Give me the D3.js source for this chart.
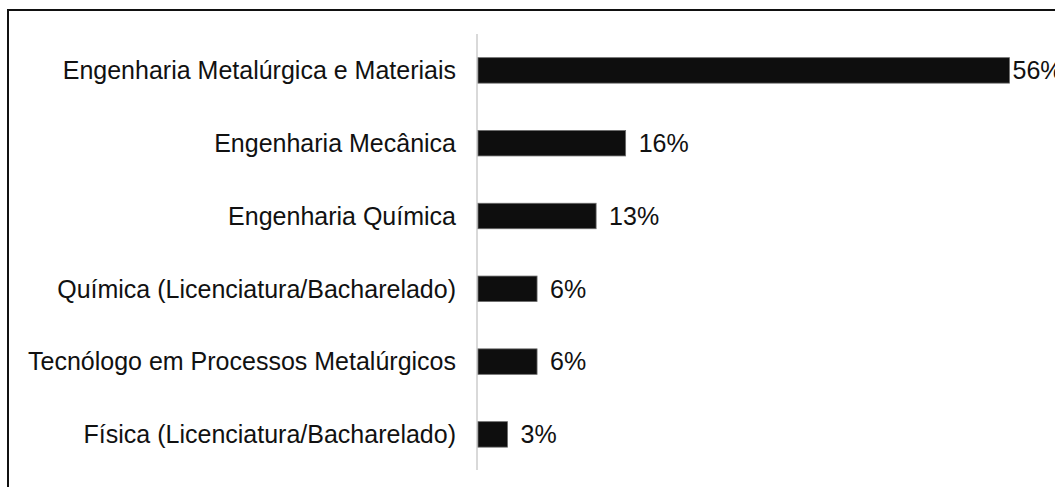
<!DOCTYPE html>
<html>
<head>
<meta charset="utf-8">
<script src="https://cdn.jsdelivr.net/npm/d3@7/dist/d3.min.js"></script>
<style>
  html, body { margin: 0; padding: 0; background: #fff; }
  svg { display: block; }
  text { font-family: "Liberation Sans", Arial, sans-serif; fill: #111; }
</style>
</head>
<body>
<script>
// Course of origin, share of respondents (%)
const courses = [
  "Engenharia Metalúrgica e Materiais",
  "Engenharia Mecânica",
  "Engenharia Química",
  "Química (Licenciatura/Bacharelado)",
  "Tecnólogo em Processos Metalúrgicos",
  "Física (Licenciatura/Bacharelado)"
];
const shares = [56.25, 15.625, 12.5, 6.25, 6.25, 3.125];

const W = 1055, H = 487;
const fontSize = 25;
const svg = d3.select("body").append("svg")
  .attr("width", W).attr("height", H);

// outer frame (extends past the right and bottom edges)
svg.append("rect")
  .attr("x", 8).attr("y", 10)
  .attr("width", W + 20).attr("height", H + 20)
  .attr("fill", "none").attr("stroke", "#111").attr("stroke-width", 2);

const x0 = 478;
const x = d3.scaleLinear().domain([0, 56.25]).range([x0, 1009.5]);
const y = d3.scaleBand().domain(courses).range([34, 470.8])
  .paddingInner(0.65).paddingOuter(0.325);

// category axis line
svg.append("line")
  .attr("x1", x0 - 1).attr("x2", x0 - 1)
  .attr("y1", 34).attr("y2", 470)
  .attr("stroke", "#d9d9d9").attr("stroke-width", 2);

// category labels
svg.append("g").selectAll("text")
  .data(courses).join("text")
  .attr("x", 456)
  .attr("y", d => y(d) + y.bandwidth() / 2)
  .attr("dy", "0.35em")
  .attr("text-anchor", "end")
  .attr("font-size", fontSize)
  .text(d => d);

const rows = courses.map((c, i) => ({ c, v: shares[i] }));

// bars
svg.append("g").selectAll("rect")
  .data(rows).join("rect")
  .attr("x", x0)
  .attr("y", d => y(d.c))
  .attr("width", d => x(d.v) - x0)
  .attr("height", y.bandwidth())
  .attr("fill", "#0e0e0e")
  .attr("stroke", "#6b6b6b")
  .attr("stroke-width", 0.8);

// value labels
svg.append("g").selectAll("text")
  .data(rows).join("text")
  .attr("x", d => Math.min(x(d.v) + 13, x(56.25) + 3))
  .attr("y", d => y(d.c) + y.bandwidth() / 2)
  .attr("dy", "0.35em")
  .attr("font-size", fontSize)
  .text(d => Math.round(d.v) + "%");
</script>
</body>
</html>
